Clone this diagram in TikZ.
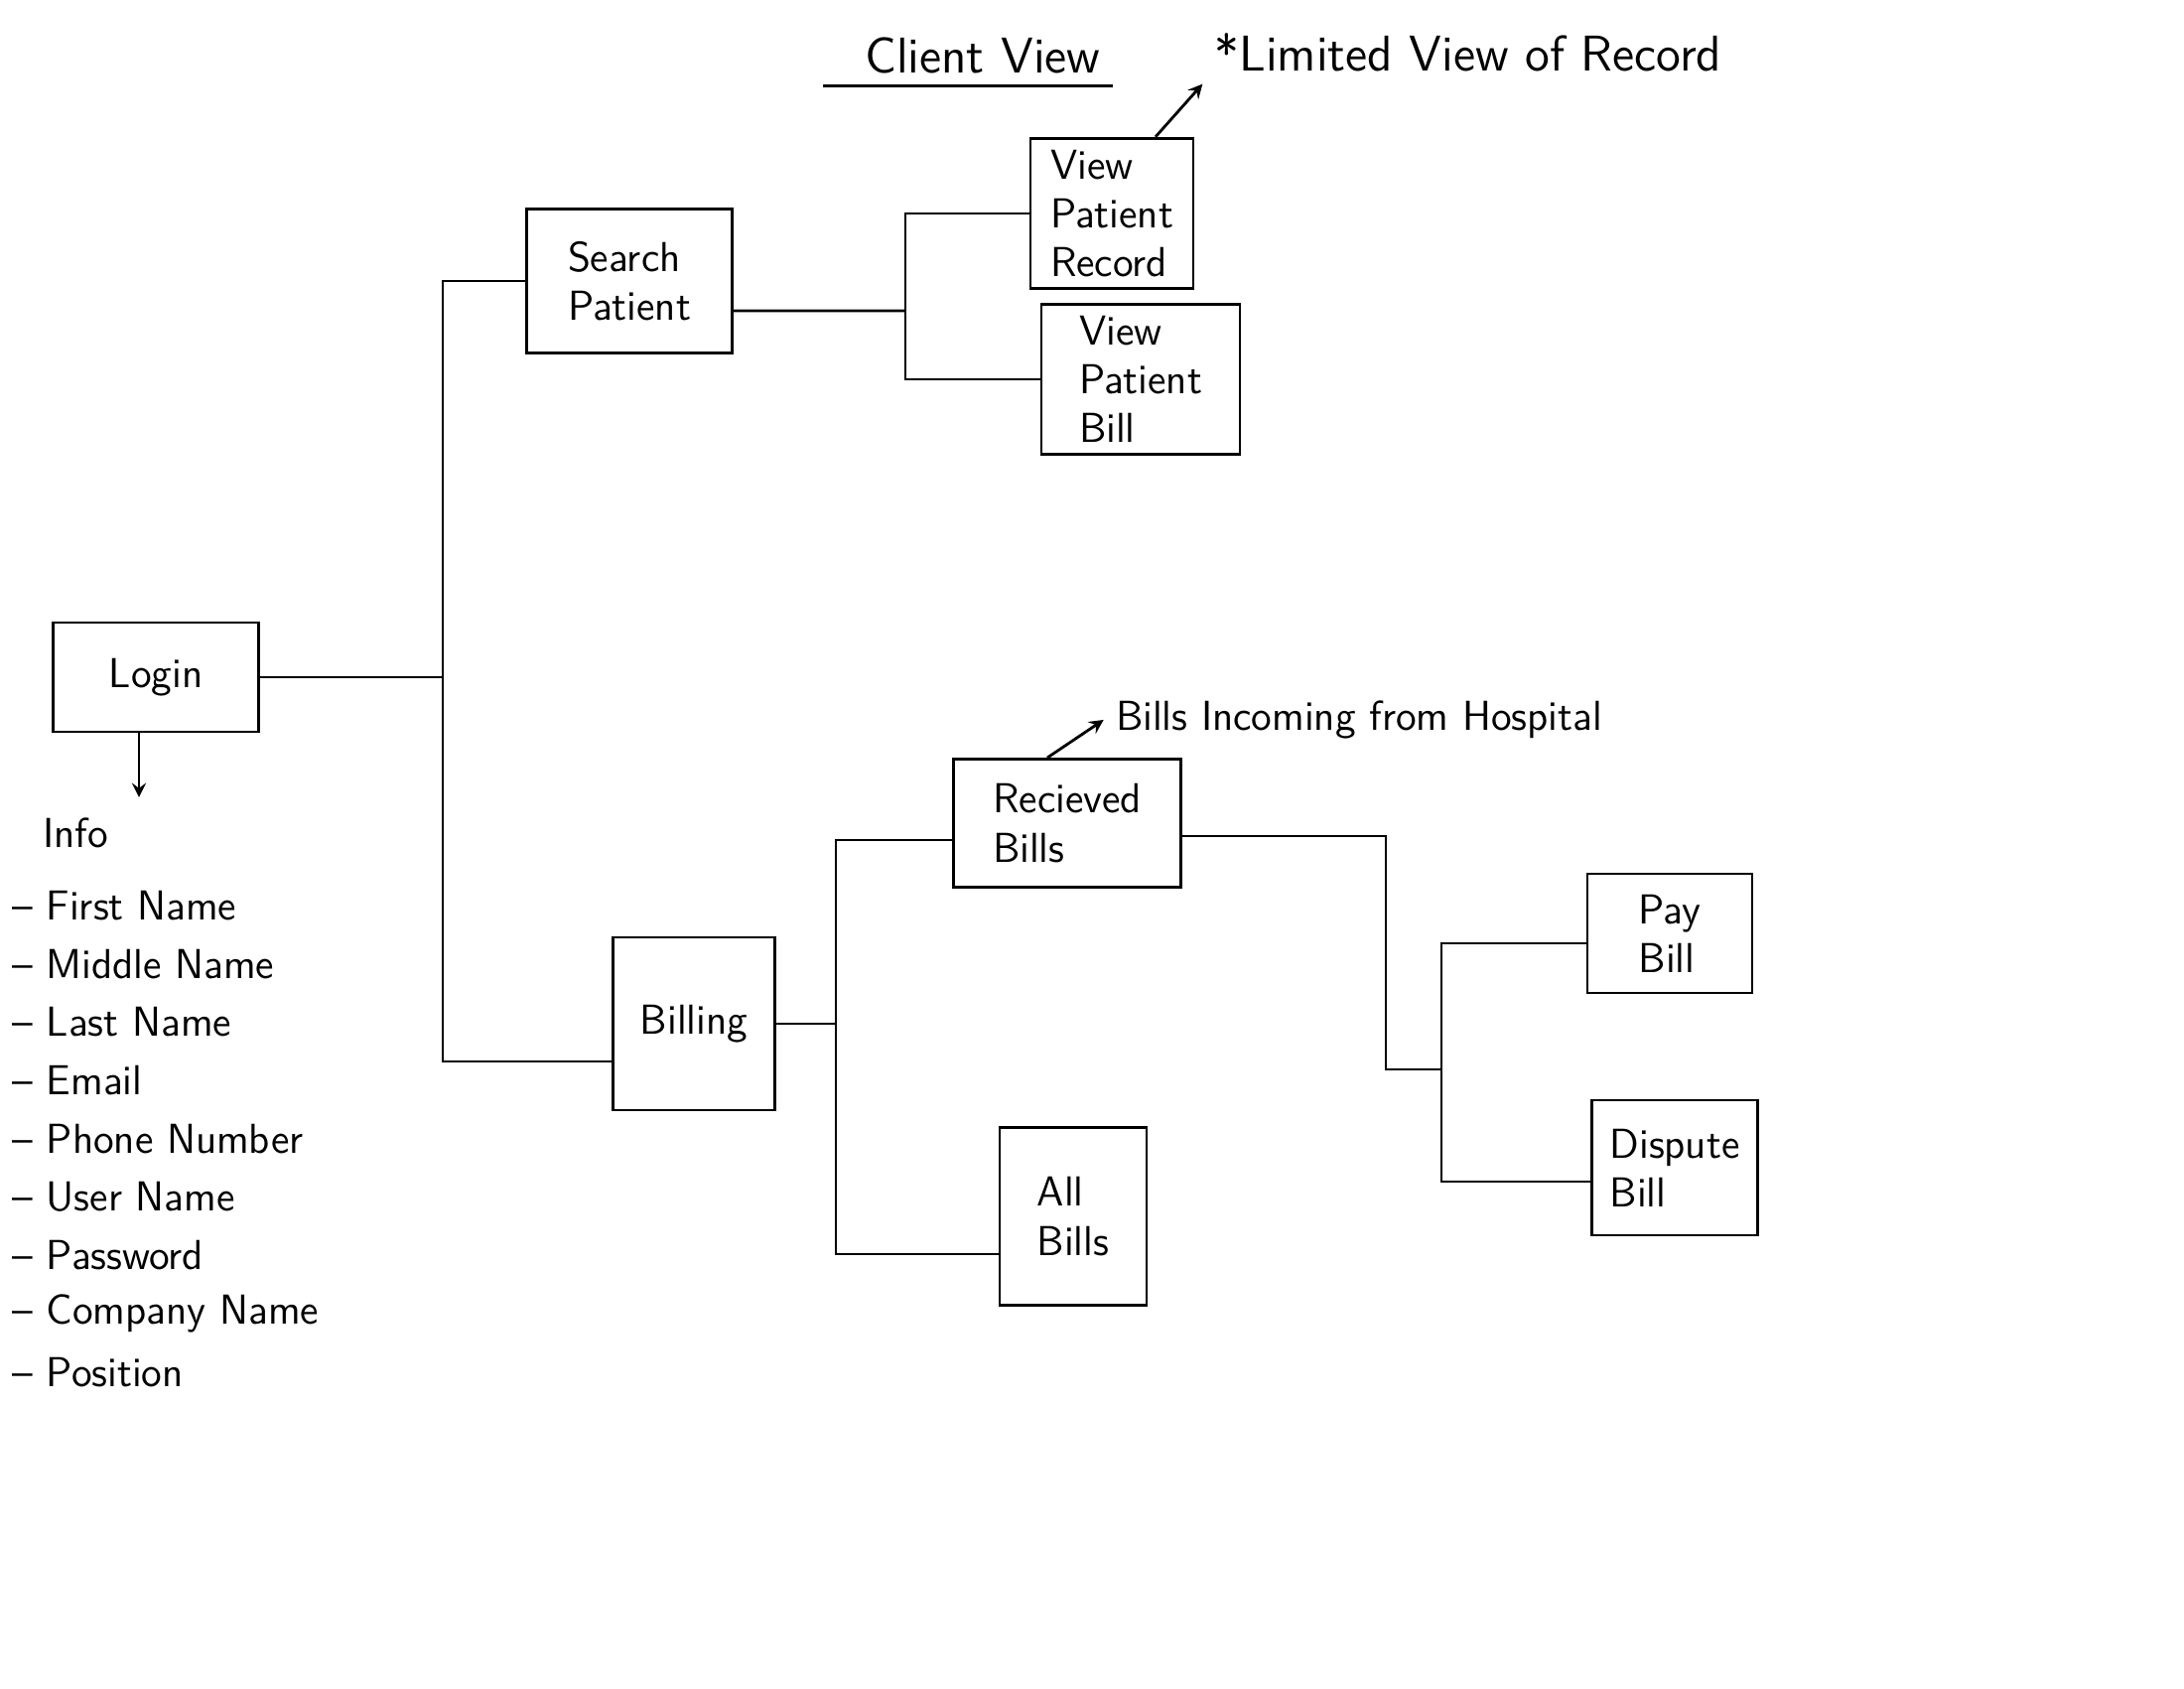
\documentclass[tikz,border=0pt]{standalone}
\usetikzlibrary{arrows,positioning,calc}

\begin{document}
\begin{tikzpicture}[
    box/.style={draw, thick, align=left, font=\sffamily\large},
    note/.style={font=\sffamily\large},
    line/.style={thick},
    arrow/.style={->, thick, >=stealth}
]
    \useasboundingbox (0,0) rectangle (22,17);
    % header
    \node[note, font=\sffamily\Large] (title) at (9.90,16.44) {Client View};
    \draw[line] ([xshift=-3mm]title.south west) -- (title.south east);
    \node[note, font=\sffamily\Large] (limited) at (14.79,16.47) {*Limited View of Record};

    % boxes
    \node[box, minimum width=2.07cm, minimum height=1.10cm] (login) at (1.57,10.18) {Login};
    \node[box, minimum width=2.07cm, minimum height=1.45cm] (search) at (6.34,14.17) {Search\\Patient};
    \node[box, minimum width=1.64cm, minimum height=1.17cm] (vpr) at (11.20,14.85) {View\\Patient\\Record};
    \node[box, minimum width=2.00cm, minimum height=1.42cm] (vpb) at (11.49,13.18) {View\\Patient\\Bill};
    \node[box, minimum width=1.63cm, minimum height=1.74cm] (billing) at (6.99,6.69) {Billing};
    \node[box, minimum width=2.29cm, minimum height=1.29cm] (recv) at (10.75,8.71) {Recieved\\Bills};
    \node[box, minimum width=1.48cm, minimum height=1.79cm] (allbills) at (10.81,4.75) {All\\Bills};
    \node[box, minimum width=1.66cm, minimum height=1.20cm] (pay) at (16.82,7.60) {Pay\\Bill};
    \node[box, minimum width=1.67cm, minimum height=1.36cm] (dispute) at (16.87,5.24) {Dispute\\Bill};
    \node[note] (incoming) at (13.69,9.75) {Bills Incoming from Hospital};

    % login info
    \coordinate (infotip) at (1.40,8.97);
    \draw[arrow] (login.south -| infotip) -- (infotip);
    \node[note, anchor=west] (info) at (0.31,8.61) {Info};
    \foreach \field [count=\i] in {First Name, Middle Name, Last Name, Email, Phone Number, User Name, Password, Company Name, Position}
        \node[note, anchor=west] (field\i) at (0.0,{7.88-0.5875*(\i-1)}) {-- \field};

    % connectors
    \coordinate (trunk) at (4.46,10.13);
    \draw[line] (login.east) -- (login.east -| trunk);
    \draw[line] (search.west) -| (trunk) |- ([yshift=-3.8mm]billing.west);

    \coordinate (viewj) at (9.12,13.87);
    \draw[line] ([yshift=-3mm]search.east) -- (viewj);
    \draw[line] (vpr.west) -| (viewj) |- (vpb.west);

    \coordinate (billj) at (8.42,6.69);
    \draw[line] (billing.east) -- (billj);
    \draw[line] ([yshift=-1.7mm]recv.west) -| (billj) |- ([yshift=-3.8mm]allbills.west);

    \coordinate (recvturn) at (13.96,6.23);
    \coordinate (payj) at (14.52,6.23);
    \draw[line] ([yshift=-1.3mm]recv.east) -| (recvturn) -- (payj);
    \draw[line] ([yshift=-1mm]pay.west) -| (payj) |- ([yshift=-1.4mm]dispute.west);

    % notes
    \draw[arrow] ([xshift=4.4mm]vpr.north) -- (limited.south west);
    \draw[arrow] ([xshift=-2mm]recv.north) -- (incoming.west);
\end{tikzpicture}
\end{document}
